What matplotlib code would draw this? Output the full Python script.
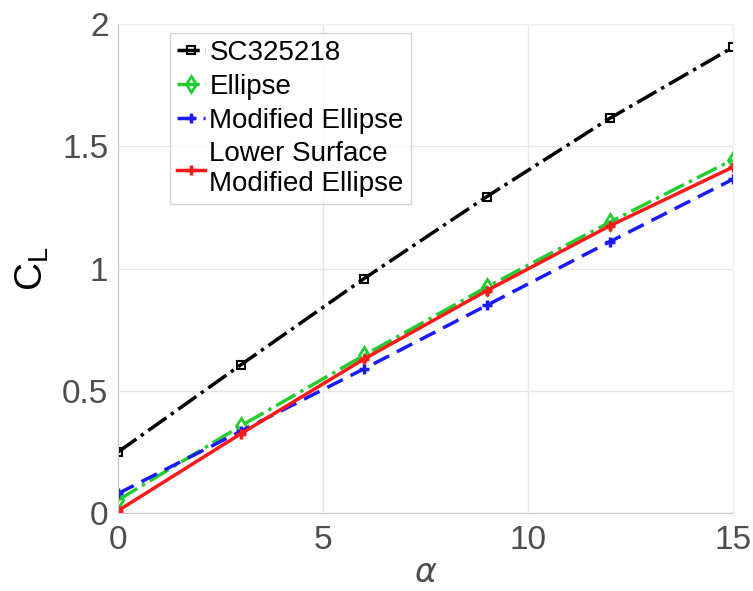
import matplotlib
matplotlib.use("Agg")
import matplotlib.pyplot as plt

alpha = [0, 3, 6, 9, 12, 15]
sc325218 = [0.25, 0.607, 0.959, 1.295, 1.615, 1.905]
ellipse = [0.053, 0.357, 0.645, 0.925, 1.19, 1.445]
mod_ellipse = [0.08, 0.335, 0.59, 0.85, 1.11, 1.365]
lower_mod = [0.01, 0.325, 0.63, 0.91, 1.175, 1.415]
labels = ["SC325218", "Ellipse", "Modified Ellipse", "Lower Surface\nModified Ellipse"]

plt.rcParams['font.family'] = ['Liberation Sans', 'DejaVu Sans']
fig = plt.figure(figsize=(7.53, 5.91), dpi=100)
ax = fig.add_axes([0.157, 0.132, 0.816, 0.827])

ax.plot(alpha, sc325218, color='black', linestyle='-.', lw=2.5, marker='s',
        ms=6, mfc='none', mec='black', mew=1.5, label=labels[0])
ax.plot(alpha, ellipse, color='#22cc33', linestyle='-.', lw=2.5, marker='d',
        ms=8, mfc='none', mec='#22cc33', mew=2, label=labels[1])
ax.plot(alpha, mod_ellipse, color='#1a1aff', linestyle=(0, (5, 2.5)), lw=2.5, marker='+',
        ms=7, mew=2.5, label=labels[2])
ax.plot(alpha, lower_mod, color='#ff1a1a', linestyle='-', lw=2.5, marker='+',
        ms=7, mew=2.5, label=labels[3])

ax.set_xlim(0, 15)
ax.set_ylim(0, 2)
ax.set_xticks([0, 5, 10, 15])
ax.set_yticks([0, 0.5, 1, 1.5, 2])
ax.set_yticklabels(['0', '0.5', '1', '1.5', '2'])
ax.grid(True, color='#e6e6e6', lw=1)
ax.set_axisbelow(True)
for s in ax.spines.values():
    s.set_color('#c8c8c8')
ax.spines['top'].set_color('#eeeeee')
ax.spines['right'].set_color('#eeeeee')
ax.tick_params(colors='#4d4d4d', labelsize=24, length=0)
ax.tick_params(axis='x', pad=9)
ax.tick_params(axis='y', pad=7)
ax.set_xlabel(r'$\alpha$', fontsize=24, color='#4d4d4d', labelpad=1)
ax.set_ylabel(r'C$_\mathregular{L}$', fontsize=28, color='black', labelpad=8)

leg = ax.legend(loc='upper left', bbox_to_anchor=(0.085, 0.982), fontsize=20,
                frameon=True, fancybox=False, handlelength=1.0, handletextpad=0.15,
                borderpad=0.25, labelspacing=0.28, borderaxespad=0)
leg.get_frame().set_edgecolor('#c8c8c8')
leg.get_frame().set_linewidth(1)

fig.savefig('out.png', dpi=100)
